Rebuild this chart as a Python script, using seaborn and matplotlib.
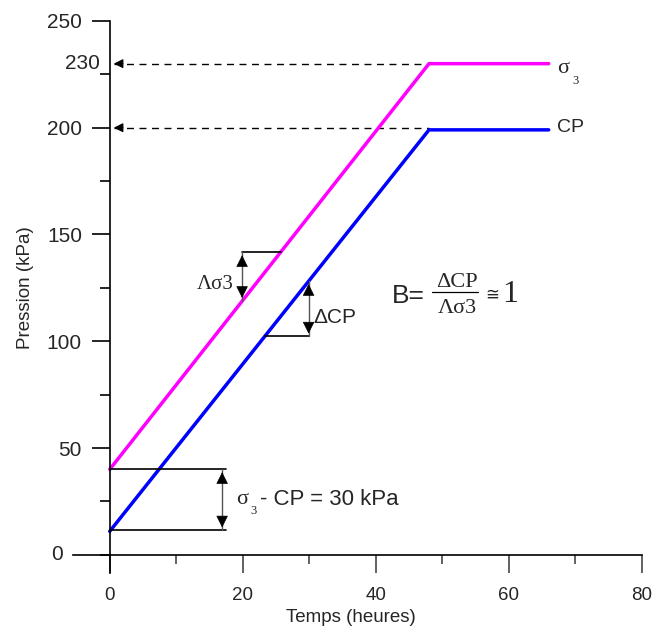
import matplotlib
matplotlib.use("Agg")
import matplotlib.pyplot as plt
import seaborn as sns
import pandas as pd
from matplotlib.ticker import MultipleLocator

# ---- data ----
temps = [0, 48, 66]
sigma3 = [40, 230, 230]
cp = [11, 199, 199]
x_ticks = [0, 20, 40, 60, 80]
y_ticks = [50, 100, 150, 200, 250]

sns.set_style("white")
plt.rcParams['font.family'] = ['Liberation Sans', 'DejaVu Sans']

SERIF = ['Liberation Serif', 'DejaVu Serif']

df = pd.DataFrame({"Temps": temps * 2,
                   "Pression": sigma3 + cp,
                   "serie": ["s3"] * len(temps) + ["CP"] * len(temps)})

fig = plt.figure(figsize=(6.59, 6.29), dpi=100)
ax = fig.add_axes([0.111, 0.0874, 0.868, 0.881])

sns.lineplot(data=df, x="Temps", y="Pression", hue="serie",
             palette={"s3": "#FF00FF", "CP": "#0000FF"}, linewidth=2.5,
             ax=ax, legend=False, estimator=None, sort=False)

ax.set_xlim(-5.5, 80.5)
ax.set_ylim(-9, 250.5)
for s in ["top", "right"]:
    ax.spines[s].set_visible(False)
ax.spines["left"].set_position(("data", 0))
ax.spines["bottom"].set_position(("data", 0))
ax.spines["left"].set_bounds(-8.5, 250)
ax.spines["bottom"].set_bounds(-5.5, 80)
for s in ["left", "bottom"]:
    ax.spines[s].set_color("black")
    ax.spines[s].set_linewidth(1.2)

ax.set_xticks(x_ticks)
ax.set_xticklabels([str(v) for v in x_ticks], fontsize=13.5)
ax.xaxis.set_minor_locator(MultipleLocator(10))
ax.set_yticks(y_ticks)
ax.set_yticklabels([str(v) for v in y_ticks], fontsize=15)
ax.yaxis.set_minor_locator(MultipleLocator(25))
ax.tick_params(axis="x", which="major", direction="out", length=13, width=1.3,
               color="#555555", pad=10, bottom=True)
ax.tick_params(axis="x", which="minor", direction="out", length=6.5, width=1.3,
               color="#555555", bottom=True)
ax.tick_params(axis="y", which="major", direction="out", length=13, width=1.2,
               color="black", pad=7, left=True)
ax.tick_params(axis="y", which="minor", direction="out", length=7, width=1.2,
               color="black", left=True)

ax.set_xlabel("")
ax.set_ylabel("")
fig.text(0.533, 0.019, "Temps (heures)", ha="center", va="center", fontsize=13.5)
fig.text(0.038, 0.543, "Pression (kPa)", ha="center", va="center",
         rotation=90, fontsize=13.5)

# extra y labels
ax.text(-7.0, 0, "0", ha="right", va="center", fontsize=15)
ax.text(-1.5, 230, "230", ha="right", va="center", fontsize=15)

# dashed arrows to the axis
for yv in [230, 200]:
    ax.plot([0.6, 48], [yv, yv], ls=(0, (5, 4)), color="black", lw=1.0, zorder=1)
    ax.annotate("", xy=(0.2, yv), xytext=(2.4, yv),
                arrowprops=dict(arrowstyle="-|>", color="black", lw=0.8,
                                mutation_scale=14))

# series labels
ax.text(67.2, 227.5, "σ", ha="left", va="center", fontsize=16, family=SERIF)
ax.text(69.6, 222.0, "3", ha="left", va="center", fontsize=9, family=SERIF)
ax.text(67.2, 200, "CP", ha="left", va="center", fontsize=14)

def double_arrow(x, y0, y1):
    ax.plot([x, x], [y0, y1], color="#555555", lw=1.0)
    ax.annotate("", xy=(x, y1), xytext=(x, y1 - 7),
                arrowprops=dict(arrowstyle="-|>", color="black", lw=0.5,
                                mutation_scale=19))
    ax.annotate("", xy=(x, y0), xytext=(x, y0 + 7),
                arrowprops=dict(arrowstyle="-|>", color="black", lw=0.5,
                                mutation_scale=19))

# delta sigma3 annotation
ax.plot([19.9, 25.8], [141.6, 141.6], color="black", lw=1.2)
double_arrow(19.9, 119.0, 141.6)
ax.text(18.6, 126.5, "Λσ3", ha="right", va="center", fontsize=15, family=SERIF)

# delta CP annotation
ax.plot([23.4, 29.9], [102.3, 102.3], color="black", lw=1.2)
double_arrow(29.9, 102.3, 128.1)
ax.text(30.6, 111.0, "ΔCP", ha="left", va="center", fontsize=15)

# formula
ax.text(42.4, 121.3, "B=", ha="left", va="center", fontsize=19)
ax.text(52.2, 127.5, "ΔCP", ha="center", va="center", fontsize=16, family=SERIF)
ax.plot([48.4, 55.4], [123.3, 123.3], color="black", lw=0.9)
ax.text(52.2, 115.3, "Λσ3", ha="center", va="center", fontsize=16, family=SERIF)
ax.text(56.5, 121.8, "≅", ha="left", va="center", fontsize=12,
        family=['DejaVu Sans'])
ax.text(59.0, 122.0, "1", ha="left", va="center", fontsize=23, family=SERIF)

# sigma3 - CP annotation
ax.plot([0, 17.5], [40, 40], color="black", lw=1.2)
ax.plot([0, 17.5], [11.5, 11.5], color="black", lw=1.2)
double_arrow(16.9, 11.5, 40)
ax.text(19.0, 26.0, "σ", ha="left", va="center", fontsize=16, family=SERIF)
ax.text(21.2, 20.3, "3", ha="left", va="center", fontsize=9, family=SERIF)
ax.text(22.6, 26.0, "- CP = 30 kPa", ha="left", va="center", fontsize=16)

fig.savefig("out.png", dpi=100)
